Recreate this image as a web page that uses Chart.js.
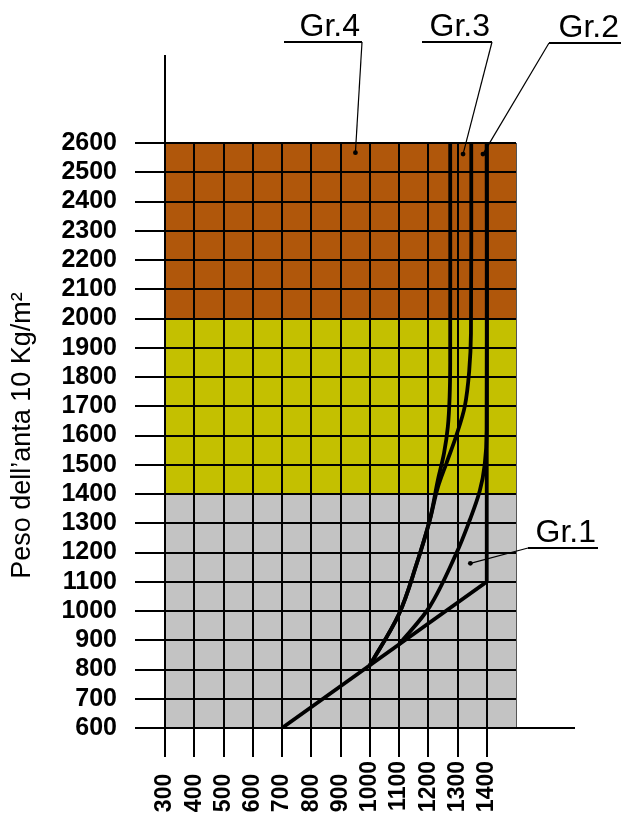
<!DOCTYPE html>
<html>
<head>
<meta charset="utf-8">
<title>Peso dell'anta</title>
<script src="https://cdn.jsdelivr.net/npm/chart.js"></script>
<style>
    body { margin: 0; background: #ffffff; }
    #wrap { width: 623px; height: 823px; }
</style>
</head>
<body>
<div id="wrap"><canvas id="myChart" width="623" height="823"></canvas></div>
<script>
// etichette degli assi
var xTicks = ['300', '400', '500', '600', '700', '800', '900', '1000', '1100', '1200', '1300', '1400'];
var yTicks = ['600', '700', '800', '900', '1000', '1100', '1200', '1300', '1400', '1500', '1600', '1700', '1800', '1900', '2000', '2100', '2200', '2300', '2400', '2500', '2600'];

// fasce di colore (limiti in Kg)
var fasceDa = [600, 1400, 2000];
var fasceA = [1400, 2000, 2600];

// curve
var gr1X = [700, 1400, 1400];
var gr1Y = [600, 1100, 2600];

var gr2X = [1100, 1205, 1296, 1342, 1376, 1393, 1400, 1400];
var gr2Y = [886, 1015, 1197, 1311, 1410, 1500, 1620, 2600];

var gr3X = [1000, 1100, 1160, 1205, 1232, 1262, 1296, 1325, 1340, 1346, 1347];
var gr3Y = [814, 990, 1160, 1310, 1420, 1505, 1600, 1700, 1820, 1950, 2600];

var gr4X = [1000, 1100, 1160, 1205, 1233, 1254, 1267, 1273, 1275, 1275];
var gr4Y = [814, 990, 1160, 1310, 1448, 1540, 1630, 1730, 1850, 2600];

// richiami Gr.x (punto indicato sul grafico)
var noteTesti = ['Gr.1', 'Gr.2', 'Gr.3', 'Gr.4'];
var noteX = [1344, 1387, 1319, 951];
var noteY = [1163, 2562, 2562, 2567];

// stile
var coloriFasce = ['#c3c3c3', '#c4c000', '#b0570b'];
var noteBox = [
    { x1: 528, x2: 598, y: 548, gancio: 'sx' },
    { x1: 549, x2: 621, y: 43, gancio: 'sx' },
    { x1: 422, x2: 492, y: 42, gancio: 'dx' },
    { x1: 284, x2: 362, y: 42, gancio: 'dx' }
];

function serie(xs, ys) {
    return xs.map(function (x, i) { return { x: x, y: ys[i] }; });
}

//fondo a fasce
var fondoPlugin = {
    id: 'fondo',
    beforeDraw: function (chart) {
        var ctx = chart.ctx;
        var sx = chart.scales.x, sy = chart.scales.y;
        ctx.save();
        for (var i = 0; i < fasceDa.length; i++) {
            var top = sy.getPixelForValue(fasceA[i]);
            var bot = sy.getPixelForValue(fasceDa[i]);
            ctx.fillStyle = coloriFasce[i];
            ctx.fillRect(sx.left, top, sx.right - sx.left, bot - top);
        }
        ctx.restore();
    }
};

//assi prolungati e richiami
var notePlugin = {
    id: 'note',
    afterDatasetsDraw: function (chart) {
        var ctx = chart.ctx;
        var sx = chart.scales.x, sy = chart.scales.y;
        var area = chart.chartArea;
        ctx.save();
        ctx.strokeStyle = '#000';
        ctx.lineWidth = 2;
        ctx.beginPath();
        ctx.moveTo(area.left, area.top);
        ctx.lineTo(area.left, 55);
        ctx.moveTo(area.right, area.bottom);
        ctx.lineTo(575, area.bottom);
        ctx.stroke();

        for (var i = 0; i < noteTesti.length; i++) {
            var b = noteBox[i];
            var px = sx.getPixelForValue(noteX[i]);
            var py = sy.getPixelForValue(noteY[i]);
            var gx = b.gancio === 'sx' ? b.x1 : b.x2;

            ctx.lineWidth = 2;
            ctx.beginPath();
            ctx.moveTo(b.x1, b.y);
            ctx.lineTo(b.x2, b.y);
            ctx.stroke();

            ctx.lineWidth = 1.2;
            ctx.beginPath();
            ctx.moveTo(gx, b.y);
            ctx.lineTo(px, py);
            ctx.stroke();

            ctx.fillStyle = '#000';
            ctx.beginPath();
            ctx.arc(px, py, 2.4, 0, Math.PI * 2);
            ctx.fill();

            ctx.font = '32px "Liberation Sans"';
            ctx.textAlign = 'right';
            ctx.textBaseline = 'alphabetic';
            ctx.fillText(noteTesti[i], b.x2 - 2, b.y - 6);
        }
        ctx.restore();
    }
};

var linea = { borderColor: '#000', borderWidth: 3.8, pointRadius: 0, showLine: true, fill: false };

var chartdata = {
    datasets: [
        Object.assign({ label: 'Gr.1', data: serie(gr1X, gr1Y), tension: 0 }, linea),
        Object.assign({ label: 'Gr.2', data: serie(gr2X, gr2Y), tension: 0.35 }, linea),
        Object.assign({ label: 'Gr.3', data: serie(gr3X, gr3Y), tension: 0.35 }, linea),
        Object.assign({ label: 'Gr.4', data: serie(gr4X, gr4Y), tension: 0.35 }, linea)
    ]
};

var graphTarget = document.getElementById('myChart');

var grafico = new Chart(graphTarget, {
    type: 'scatter',
    data: chartdata,
    plugins: [fondoPlugin, notePlugin],
    options: {
        responsive: false,
        animation: false,
        devicePixelRatio: 1,
        layout: { padding: { left: 0, top: 143, right: 107, bottom: 10 } },
        plugins: {
            legend: { display: false },
            tooltip: { enabled: false }
        },
        scales: {
            x: {
                type: 'linear',
                min: 300,
                max: 1500,
                afterFit: function (s) { s.height = 85; },
                ticks: {
                    stepSize: 100,
                    autoSkip: false,
                    minRotation: 90,
                    maxRotation: 90,
                    padding: 4,
                    color: '#000',
                    font: { family: 'Liberation Sans', size: 23, weight: 'bold' },
                    callback: function (v) {
                        var t = String(v);
                        if (xTicks.indexOf(t) < 0) return '';
                        return t.length < 4 ? t + '  ' : t; // allineati in basso
                    }
                },
                grid: {
                    color: function (c) { return c.tick && c.tick.value === 1500 ? '#555' : '#000'; },
                    lineWidth: function (c) { return c.tick && c.tick.value === 1500 ? 1 : 2; },
                    tickColor: function (c) { return c.tick && c.tick.value === 1500 ? 'rgba(0,0,0,0)' : '#000'; },
                    tickLength: 29,
                    tickWidth: 2
                },
                border: { color: '#000', width: 2 }
            },
            y: {
                type: 'linear',
                min: 600,
                max: 2600,
                afterFit: function (s) { s.width = 165; },
                ticks: {
                    stepSize: 100,
                    autoSkip: false,
                    padding: 18,
                    color: '#000',
                    font: { family: 'Liberation Sans', size: 25, weight: 'bold' },
                    callback: function (v) {
                        var t = String(v);
                        return yTicks.indexOf(t) < 0 ? '' : t;
                    }
                },
                grid: {
                    color: '#000',
                    lineWidth: 2,
                    tickLength: 30,
                    tickWidth: 2,
                    tickColor: '#000'
                },
                border: { color: '#000', width: 2 },
                title: {
                    display: true,
                    text: 'Peso dell\u2019anta 10 Kg/m\u00b2',
                    color: '#000',
                    font: { family: 'Liberation Sans', size: 27, weight: 'normal' },
                    padding: { top: 6, bottom: 0 }
                }
            }
        }
    }
});
</script>
</body>
</html>
